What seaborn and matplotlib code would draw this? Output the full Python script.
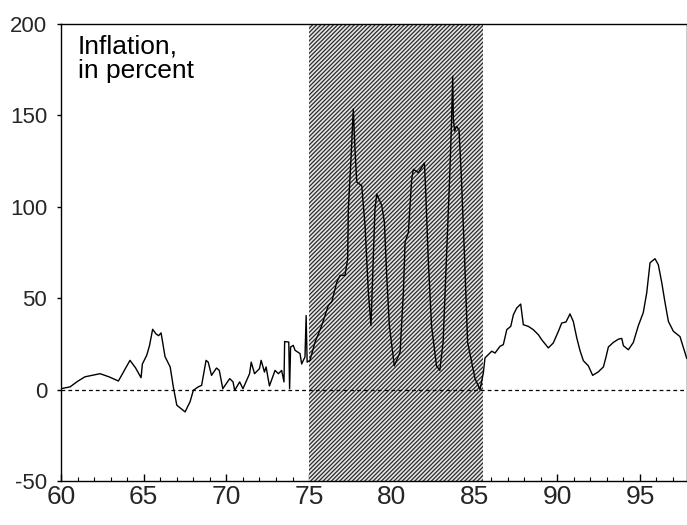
import matplotlib
matplotlib.use("Agg")
import matplotlib.pyplot as plt
from matplotlib.ticker import MultipleLocator
import pandas as pd
import seaborn as sns

# Inflation series (year fraction, percent)
years = [
    60.0, 60.55, 61.0, 61.45, 62.36, 62.9, 63.47, 64.17, 64.5, 64.84, 64.92,
    65.18, 65.35, 65.54, 65.74, 65.9, 66.05, 66.29, 66.6, 66.79, 67.0, 67.2,
    67.5, 67.8, 68.0, 68.3, 68.5, 68.77, 68.9, 69.1, 69.4, 69.57, 69.78,
    70.2, 70.4, 70.5, 70.8, 71.0, 71.4, 71.5, 71.7, 72.0, 72.1, 72.3, 72.4,
    72.6, 72.94, 73.14, 73.34, 73.48, 73.52, 73.77, 73.82, 73.88, 74.04,
    74.15, 74.45, 74.55, 74.65, 74.75, 74.82, 74.88, 75.05, 75.36, 75.76,
    76.16, 76.37, 76.57, 76.67, 76.87, 77.17, 77.33, 77.37, 77.53, 77.67,
    77.78, 77.88, 78.18, 78.38, 78.58, 78.74, 78.88, 78.98, 79.09, 79.39,
    79.55, 79.69, 79.85, 80.15, 80.5, 80.7, 80.8, 81.0, 81.1, 81.2, 81.3,
    81.6, 81.8, 81.97, 82.05, 82.2, 82.4, 82.7, 82.9, 83.1, 83.3, 83.5,
    83.6, 83.68, 83.72, 83.8, 83.9, 84.06, 84.2, 84.4, 84.58, 84.78, 85.03,
    85.33, 85.53, 85.63, 86.04, 86.24, 86.54, 86.74, 86.95, 87.19, 87.35,
    87.55, 87.79, 87.95, 88.25, 88.55, 88.86, 89.06, 89.46, 89.76, 90.07,
    90.27, 90.53, 90.77, 90.97, 91.18, 91.38, 91.58, 91.88, 92.14, 92.48,
    92.79, 92.95, 93.09, 93.39, 93.7, 93.9, 94.0, 94.3, 94.6, 94.9, 95.2,
    95.41, 95.61, 95.91, 96.11, 96.32, 96.52, 96.72, 97.02, 97.42, 97.83,
]
inflation = [
    0.5, 1.5, 4.5, 7.0, 8.7, 7.0, 4.7, 16.0, 12.0, 6.5, 14.0,
    18.7, 24.0, 33.0, 30.5, 29.5, 31.0, 18.0, 12.4, 1.5, -8.5, -10.0,
    -12.2, -6.7, -0.4, 1.5, 2.3, 16.0, 15.0, 7.8, 11.8, 10.5, 0.5,
    6.0, 4.2, -0.4, 4.2, 0.5, 8.7, 15.0, 8.7, 11.5, 16.0, 9.6, 12.4,
    2.0, 10.5, 8.7, 10.5, 4.2, 26.3, 26.0, 0.5, 23.3, 24.2,
    21.5, 19.7, 14.0, 16.0, 17.8, 40.5, 15.0, 16.0, 26.0, 35.0,
    46.0, 48.0, 55.0, 58.7, 62.5, 62.5, 71.6, 98.9, 126.0, 153.5,
    130.0, 113.5, 111.6, 89.8, 53.4, 35.0, 71.6, 98.9, 107.0, 100.7,
    91.6, 62.5, 35.0, 13.0, 20.5, 53.4, 80.7, 86.0, 100.7, 115.0, 120.5,
    118.7, 121.5, 124.0, 108.0, 71.6, 35.0, 13.0, 10.5, 26.0, 71.6, 117.0,
    144.0, 171.4, 147.7, 141.4, 144.0, 142.3, 117.0, 71.6, 26.0, 17.0, 6.0,
    0.0, 9.0, 17.3, 21.0, 20.0, 23.7, 24.6, 32.8, 34.6, 41.0,
    44.6, 46.8, 35.5, 34.6, 32.8, 30.0, 27.3, 22.8, 25.5, 31.9,
    36.4, 37.0, 41.4, 37.3, 28.3, 21.2, 15.8, 13.0, 7.8, 9.7,
    12.4, 17.9, 23.3, 25.8, 27.6, 28.0, 24.0, 21.8, 25.8, 34.9, 42.1,
    53.0, 69.4, 71.6, 68.3, 58.4, 47.4, 37.3, 31.9, 29.0, 17.0,
]

# Stabilisation period highlighted on the chart
period_start, period_end = 75.0, 85.5

x_ticks = [60, 65, 70, 75, 80, 85, 90, 95]
y_ticks = [-50, 0, 50, 100, 150, 200]

sns.set_theme(style="white")
plt.rcParams["font.family"] = ["Liberation Sans", "DejaVu Sans"]
plt.rcParams["hatch.linewidth"] = 0.9

df = pd.DataFrame({"year": years, "inflation": inflation})

fig = plt.figure(figsize=(6.87, 5.25), dpi=100)
ax = fig.add_axes([61 / 687, 1 - 481 / 525, (686.6 - 61) / 687, (481 - 24) / 525])

ax.axvspan(period_start, period_end, facecolor="#e6e6e6", edgecolor="#2a2a2a",
           hatch="////////", linewidth=0, zorder=1)
ax.axhline(0, color="black", lw=0.9, ls=(0, (3.0, 2.5)), zorder=2)

sns.lineplot(data=df, x="year", y="inflation", ax=ax, color="black",
             lw=1.0, estimator=None, sort=False, zorder=3)

ax.set_xlim(60, 97.82)
ax.set_ylim(-50, 200)
ax.set_xticks(x_ticks)
ax.set_xticklabels([str(t) for t in x_ticks])
ax.set_yticks(y_ticks)
ax.set_yticklabels([str(t) for t in y_ticks])
ax.xaxis.set_minor_locator(MultipleLocator(1))
ax.set_xlabel("")
ax.set_ylabel("")

ax.tick_params(axis="x", which="major", direction="in", length=5, width=1,
               color="black", labelsize=19, pad=3, bottom=True, top=False)
ax.tick_params(axis="x", which="minor", direction="in", length=3, width=0.8,
               color="black", bottom=True, top=False)
ax.tick_params(axis="y", which="major", direction="out", length=3, width=1,
               color="black", labelsize=16, pad=7, left=True, right=False)

for side in ["left", "right", "top", "bottom"]:
    ax.spines[side].set_visible(True)
    ax.spines[side].set_color("black")
    ax.spines[side].set_linewidth(1.0)

ax.text(0.027, 0.978, "Inflation,\nin percent", transform=ax.transAxes,
        ha="left", va="top", fontsize=19, linespacing=1.05, color="black",
        zorder=4)

fig.savefig("out.png", dpi=100, facecolor="white")
